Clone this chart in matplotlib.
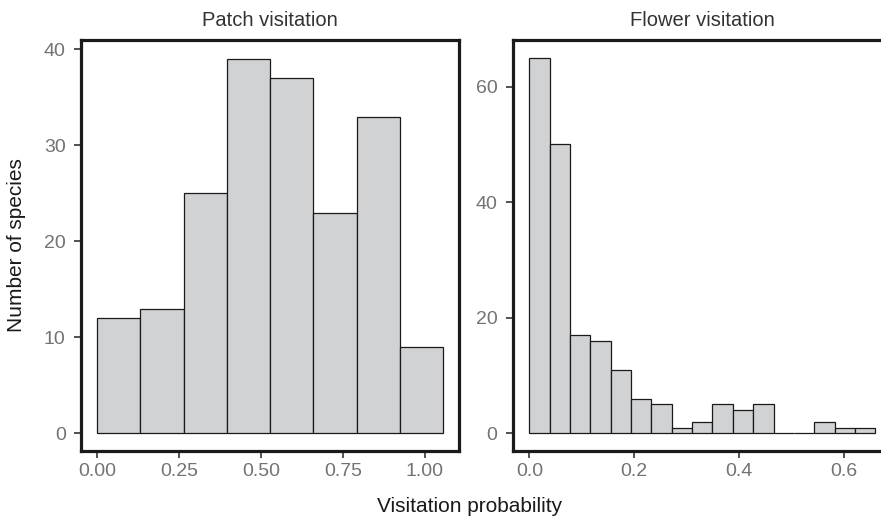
import numpy as np
import matplotlib
matplotlib.use("Agg")
import matplotlib.pyplot as plt

plt.rcParams['font.family'] = ['Liberation Sans', 'DejaVu Sans']

# histogram counts
patch_counts = [12, 13, 25, 39, 37, 23, 33, 9]
patch_binwidth = 0.132
flower_counts = [65, 50, 17, 16, 11, 6, 5, 1, 2, 5, 4, 5, 0, 0, 2, 1, 1]
flower_binwidth = 0.0388

patch_ticks = [0.00, 0.25, 0.50, 0.75, 1.00]
patch_ticklabels = ["0.00", "0.25", "0.50", "0.75", "1.00"]
flower_ticks = [0.0, 0.2, 0.4, 0.6]
flower_ticklabels = ["0.0", "0.2", "0.4", "0.6"]

BAR = "#d1d2d4"
EDGE = "#1a1a1a"
TICKCOL = "#737373"

W, H = 881, 518
fig = plt.figure(figsize=(W / 100, H / 100), dpi=100)


def px_axes(x0, y0, x1, y1):
    return fig.add_axes([x0 / W, 1 - y1 / H, (x1 - x0) / W, (y1 - y0) / H])


def style(ax):
    for s in ax.spines.values():
        s.set_linewidth(2.3)
        s.set_color("#1a1a1a")
    ax.tick_params(axis='both', length=5, width=1.3, color="#444444",
                   labelcolor=TICKCOL, labelsize=14, pad=4)


ax1 = px_axes(81, 40, 459, 451)
edges1 = np.arange(len(patch_counts)) * patch_binwidth
ax1.bar(edges1, patch_counts, width=patch_binwidth, align='edge',
        color=BAR, edgecolor=EDGE, linewidth=0.9)
ax1.set_xlim(-0.0488, 1.104)
ax1.set_ylim(-1.84, 40.97)
ax1.set_xticks(patch_ticks)
ax1.set_xticklabels(patch_ticklabels)
ax1.set_yticks([0, 10, 20, 30, 40])
ax1.set_title("Patch visitation", fontsize=14.5, color="#333333", pad=10)
ax1.set_ylabel("Number of species", fontsize=15, color="#1a1a1a")
ax1.yaxis.set_label_coords((26 - 81) / (459 - 81), 0.5)
style(ax1)
ax1.tick_params(axis='y', pad=6)

ax2 = px_axes(512.7, 40, 892, 451)
edges2 = np.arange(len(flower_counts)) * flower_binwidth
ax2.bar(edges2, flower_counts, width=flower_binwidth, align='edge',
        color=BAR, edgecolor=EDGE, linewidth=0.9)
ax2.set_xlim(-0.0317, 0.6915)
ax2.set_ylim(-3.06, 68.08)
ax2.set_xticks(flower_ticks)
ax2.set_xticklabels(flower_ticklabels)
ax2.set_yticks([0, 20, 40, 60])
ax2.set_title("Flower visitation", fontsize=14.5, color="#333333", pad=10)
style(ax2)
ax2.tick_params(axis='y', pad=6)

fig.text(470 / W, 1 - 512 / H, "Visitation probability", ha='center', va='baseline',
         fontsize=15, color="#1a1a1a")

fig.savefig("out.png", dpi=100)
